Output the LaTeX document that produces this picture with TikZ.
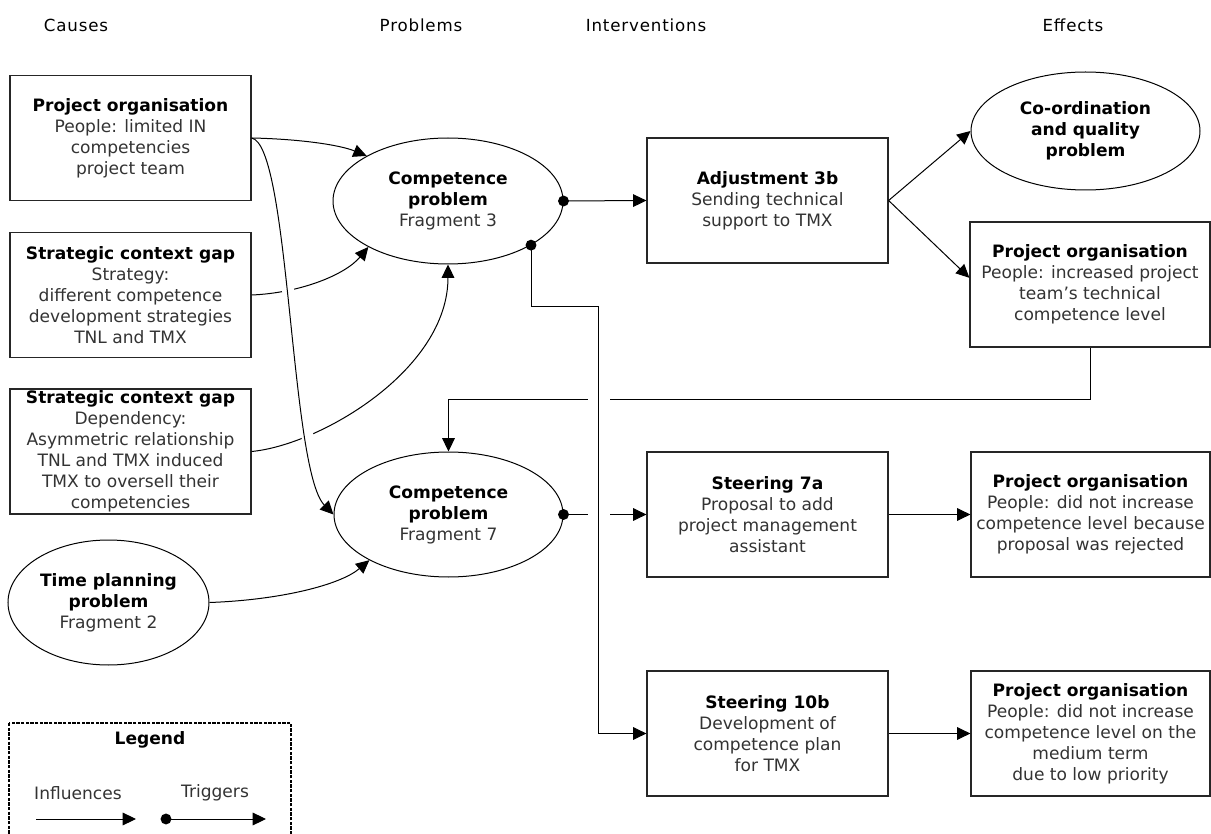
\documentclass[tikz,border=0pt]{standalone}
\usepackage{fontspec}
\setmainfont{DejaVu Sans}
\newfontfamily\hdrfont[LetterSpace=5]{DejaVu Sans}
\usetikzlibrary{shapes.geometric,arrows.meta}
\newcommand\mybf[1]{\textcolor{black}{\textbf{#1}}}
\begin{document}
\begin{tikzpicture}[x=0.75pt,y=-0.75pt,
  every node/.style={font=\fontsize{12.8}{15.75}\selectfont, align=center, text=black!80},
  boxn/.style={draw=black!85, line width=0.9pt, rectangle, minimum width=241*0.75pt, minimum height=125*0.75pt, inner xsep=1pt, inner ysep=0pt},
  elln/.style={draw=black, line width=0.75pt, ellipse, inner sep=0pt},
  infl/.style={draw=black, line width=0.75pt, -{Triangle[length=10pt,width=9.5pt]}},
  hdr/.style={text=black, font=\hdrfont\fontsize{12.5}{15}\selectfont},
  ]
\useasboundingbox (0,0) rectangle (1211,834);
\fill[white] (0,0) rectangle (1211,834);

% headers
\node[hdr] (h1) at (76,25) {Causes};
\node[hdr] (h2) at (421,25) {Problems};
\node[hdr] (h3) at (646,25) {Interventions};
\node[hdr] (h4) at (1073,25) {Effects};

% causes
\node[boxn] (pa) at (130.5,138) {\mybf{Project organisation}\\ People: limited IN\\ competencies\\ project team};
\node[boxn] (sb) at (130.5,295) {\mybf{Strategic context gap}\\ Strategy:\\ different competence\\ development strategies\\ TNL and TMX};
\node[boxn] (sc) at (130.5,451.5) {\mybf{Strategic context gap}\\ Dependency:\\ Asymmetric relationship\\ TNL and TMX induced\\ TMX to oversell their\\ competencies};
\node[elln, minimum width=201*0.75pt, minimum height=125*0.75pt] (tp) at (108.5,602.5) {\mybf{Time planning}\\ \mybf{problem}\\ Fragment 2};

% problems
\node[elln, minimum width=230*0.75pt, minimum height=126*0.75pt] (c3) at (448,201) {\mybf{Competence}\\ \mybf{problem}\\ Fragment 3};
\node[elln, minimum width=229*0.75pt, minimum height=125*0.75pt] (c7) at (448.5,514.5) {\mybf{Competence}\\ \mybf{problem}\\ Fragment 7};

% interventions
\node[boxn] (adj) at (767.5,200.5) {\mybf{Adjustment 3b}\\ Sending technical\\ support to TMX};
\node[boxn] (s7) at (767.5,514.5) {\mybf{Steering 7a}\\ Proposal to add\\ project management\\ assistant};
\node[boxn] (s10) at (767.5,733.5) {\mybf{Steering 10b}\\ Development of\\ competence plan\\ for TMX};

% effects
\node[elln, minimum width=229*0.75pt, minimum height=118*0.75pt] (co) at (1085.5,131) {\mybf{Co-ordination}\\ \mybf{and quality}\\ \mybf{problem}};
\node[boxn, minimum width=240*0.75pt] (pr1) at (1090,284.5) {\mybf{Project organisation}\\ People: increased project\\ team’s technical\\ competence level};
\node[boxn, minimum width=239*0.75pt] (e7) at (1090.5,514.5) {\mybf{Project organisation}\\ People: did not increase\\ competence level because\\ proposal was rejected};
\node[boxn, minimum width=239*0.75pt] (e10) at (1090.5,733.5) {\mybf{Project organisation}\\ People: did not increase\\ competence level on the\\ medium term\\ due to low priority};

% influence curves on the left
\draw[infl] (pa.east) .. controls (300,139) and (340,145) .. (c3.151);
\draw[infl] (sb.east) .. controls (300,293) and (345,275) .. (c3.210);
\draw[infl] (sc.east) .. controls (320,445) and (448,370) .. (c3.south);
\draw[infl] (tp.east) .. controls (280,600) and (340,585) .. (c7.210);
\begin{scope}
  \clip (265,230) rectangle (330,470);
  \draw[white, line width=9pt] (pa.east) .. controls (290,145) and (290,470) .. (c7.west);
\end{scope}
\draw[infl] (pa.east) .. controls (290,145) and (290,470) .. (c7.west);

% triggers and feedback
\coordinate (d3) at (c3.-28.2);
\coordinate (bend) at (598,307);
\draw[infl] (c3.east) -- (adj.west);
\fill (c3.east) circle[radius=4.1pt];
\draw[infl] (pr1.south) -- ++(0,52) -| (c7.north);
\draw[infl] (c7.east) -- (s7.west);
\fill (c7.east) circle[radius=4.1pt];
\fill[white] (587.5,394) rectangle (609.5,404);
\fill[white] (587.5,509.5) rectangle (609.5,519.5);
\draw[infl] (d3) |- (bend) |- (s10.west);
\fill (d3) circle[radius=4.1pt];

% interventions to effects
\draw[infl] (adj.east) -- (co.west);
\draw[infl] (adj.east) -- ([yshift=5pt]pr1.west);
\draw[infl] (s7.east) -- (e7.west);
\draw[infl] (s10.east) -- (e10.west);

% legend
\draw[line width=1.1pt, dash pattern=on 2.5pt off 1pt] (9,723) rectangle (291,850);
\node (lg) at (150,740) {\mybf{Legend}};
\node (li) at (78,793) {Influences};
\node (lt) at (215,793) {Triggers};
\coordinate (l1a) at (36,819);
\coordinate (l1b) at (136,819);
\coordinate (l2a) at (166,819);
\coordinate (l2b) at (266,819);
\draw[infl] (l1a) -- (l1b);
\draw[infl] (l2a) -- (l2b);
\fill (l2a) circle[radius=4.1pt];
\end{tikzpicture}
\end{document}
